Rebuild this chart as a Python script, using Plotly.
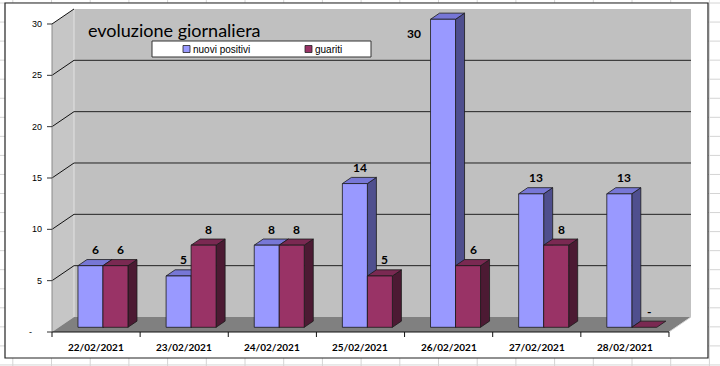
import plotly.graph_objects as go

# ---------------- data ----------------
categories = ["22/02/2021", "23/02/2021", "24/02/2021", "25/02/2021",
              "26/02/2021", "27/02/2021", "28/02/2021"]
nuovi_positivi = [6, 5, 8, 14, 30, 13, 13]
guariti = [6, 8, 8, 5, 6, 8, 0]
series_names = ["nuovi positivi", "guariti"]
y_ticks = [0, 5, 10, 15, 20, 25, 30]
y_tick_labels = ["-", "5", "10", "15", "20", "25", "30"]
title_text = "evoluzione giornaliera"

# ---------------- styling / geometry ----------------
W, H = 720, 366
X_LEFT_PX, CAT_PX, Y0_PX, UNIT_PX = 52.0, 88.14, 332.0, 10.267


def px_x(px):
    return (px - X_LEFT_PX) / CAT_PX - 0.5


def px_y(py):
    return (Y0_PX - py) / UNIT_PX


def dxu(px):
    return px / CAT_PX


def dyu(px):
    return px / UNIT_PX


n = len(categories)
x_lo, x_hi = -0.5, n - 0.5
y_max = max(y_ticks)
DX, DY = dxu(22), dyu(15)            # full depth of the 3D box
F0 = 0.313                           # depth at which bar fronts sit
BF = 0.41                            # bar depth fraction
BAR_W = dxu(25)

colors = {
    "front": ["#9999FF", "#993366"],
    "top": ["#7777D6", "#7A2952"],
    "side": ["#4F4F8E", "#4C1A33"],
}
EDGE = "#1a1a1a"

shapes = []
# spreadsheet cell grid behind the chart object
for k in range(-2, 20):
    xv = 51.5 + 38.7 * k
    if 0 <= xv <= W:
        shapes.append(dict(type="line", xref="paper", yref="paper",
                           x0=xv / W, x1=xv / W, y0=0, y1=1,
                           line=dict(color="#D4D4D4", width=1), layer="below"))
for k in range(0, 20):
    yv = 3 + 19.05 * k
    if 0 <= yv <= H:
        shapes.append(dict(type="line", xref="paper", yref="paper",
                           x0=0, x1=1, y0=1 - yv / H, y1=1 - yv / H,
                           line=dict(color="#D4D4D4", width=1), layer="below"))
# chart object frame
shapes.append(dict(type="rect", xref="paper", yref="paper",
                   x0=5 / W, x1=708 / W, y0=1 - 358 / H, y1=1 - 3 / H,
                   fillcolor="white", line=dict(color="#222222", width=1.2),
                   layer="below"))

# walls & floor
shapes.append(dict(type="rect", xref="x", yref="y",
                   x0=x_lo + DX, x1=x_hi + DX, y0=DY, y1=y_max + DY,
                   fillcolor="#C0C0C0", line=dict(width=0), layer="below"))
shapes.append(dict(type="path", xref="x", yref="y",
                   path=f"M{x_lo},0 L{x_lo+DX},{DY} L{x_lo+DX},{y_max+DY} L{x_lo},{y_max} Z",
                   fillcolor="#C6C6C6", line=dict(width=0), layer="below"))
shapes.append(dict(type="line", xref="x", yref="y",
                   x0=x_lo + DX, x1=x_lo + DX, y0=DY, y1=y_max + DY,
                   line=dict(color="#E2E2E2", width=1), layer="below"))
shapes.append(dict(type="path", xref="x", yref="y",
                   path=f"M{x_lo},0 L{x_hi},0 L{x_hi+DX},{DY} L{x_lo+DX},{DY} Z",
                   fillcolor="#808080", line=dict(width=0), layer="below"))
shapes.append(dict(type="line", xref="x", yref="y",
                   x0=x_hi, x1=x_hi + DX, y0=0, y1=DY,
                   line=dict(color="#D8D8D8", width=1), layer="below"))

# gridlines (diagonal on side wall + horizontal on back wall)
for t in y_ticks:
    if t == 0:
        continue
    shapes.append(dict(type="line", xref="x", yref="y",
                       x0=x_lo, y0=t, x1=x_lo + DX, y1=t + DY,
                       line=dict(color="#111111", width=1), layer="below"))
    if t < y_max:
        shapes.append(dict(type="line", xref="x", yref="y",
                           x0=x_lo + DX, y0=t + DY, x1=x_hi + DX, y1=t + DY,
                           line=dict(color="#222222", width=1), layer="below"))

# front value axis + ticks
shapes.append(dict(type="line", xref="x", yref="y",
                   x0=x_lo, x1=x_lo, y0=0, y1=y_max,
                   line=dict(color="#8A8A8A", width=1), layer="below"))
for t in y_ticks:
    shapes.append(dict(type="line", xref="x", yref="y",
                       x0=x_lo - dxu(5), x1=x_lo, y0=t, y1=t,
                       line=dict(color="#333333", width=1), layer="below"))
# category axis + ticks
shapes.append(dict(type="line", xref="x", yref="y",
                   x0=x_lo, x1=x_hi, y0=0, y1=0,
                   line=dict(color="#111111", width=1), layer="below"))
for i in range(n + 1):
    shapes.append(dict(type="line", xref="x", yref="y",
                       x0=i - 0.5, x1=i - 0.5, y0=0, y1=-dyu(5),
                       line=dict(color="#111111", width=1), layer="below"))

# legend box (below traces so the markers show)
shapes.append(dict(type="rect", xref="x", yref="y",
                   x0=px_x(152), x1=px_x(371), y0=px_y(57), y1=px_y(41),
                   fillcolor="white", line=dict(color="#333333", width=1),
                   layer="below"))

fig = go.Figure()

# ---------------- 3D bars ----------------
series = [nuovi_positivi, guariti]
annotations = []
for s, vals in enumerate(series):
    fx, fy, tx, ty, sx, sy = [], [], [], [], [], []
    for i, v in enumerate(vals):
        x0 = i - BAR_W + s * BAR_W + F0 * DX
        x1 = x0 + BAR_W
        b = F0 * DY
        top = b + v
        bdx, bdy = BF * DX, BF * DY
        if v > 0:
            fx += [x0, x1, x1, x0, x0, None]
            fy += [b, b, top, top, b, None]
            sx += [x1, x1 + bdx, x1 + bdx, x1, x1, None]
            sy += [b, b + bdy, top + bdy, top, b, None]
        tx += [x0, x1, x1 + bdx, x0 + bdx, x0, None]
        ty += [top, top, top + bdy, top + bdy, top, None]

        label = str(v) if v else "-"
        ly = top + dyu(16)
        if ly > y_max + DY - dyu(2):
            annotations.append(dict(x=x0 - dxu(8), y=top - dyu(14), xref="x", yref="y",
                                    text=f"<b>{label}</b>", showarrow=False,
                                    xanchor="right", yanchor="middle",
                                    font=dict(family="Lato", size=12, color="black")))
        else:
            annotations.append(dict(x=(x0 + x1) / 2 + dxu(5), y=ly, xref="x", yref="y",
                                    text=f"<b>{label}</b>", showarrow=False,
                                    xanchor="center", yanchor="middle",
                                    font=dict(family="Lato", size=12, color="black")))
    for xs, ys, key in ((sx, sy, "side"), (tx, ty, "top"), (fx, fy, "front")):
        fig.add_trace(go.Scatter(x=xs, y=ys, mode="lines", fill="toself",
                                 fillcolor=colors[key][s],
                                 line=dict(color=EDGE, width=0.8),
                                 hoverinfo="skip", showlegend=False,
                                 name=series_names[s]))

# ---------------- axis labels ----------------
for t, lab in zip(y_ticks, y_tick_labels):
    xa = x_lo - dxu(8) if t else x_lo - dxu(18)
    annotations.append(dict(x=xa, y=t, xref="x", yref="y", text=lab,
                            showarrow=False, xanchor="right", yanchor="middle",
                            font=dict(family="Liberation Sans", size=9, color="black")))
for i, c in enumerate(categories):
    annotations.append(dict(x=i, y=-dyu(15), xref="x", yref="y", text=f"<b>{c}</b>",
                            showarrow=False, xanchor="center", yanchor="middle",
                            font=dict(family="Lato", size=10, color="black")))

# ---------------- title ----------------
annotations.append(dict(x=px_x(86), y=px_y(30), xref="x", yref="y", text=title_text,
                        showarrow=False, xanchor="left", yanchor="middle",
                        font=dict(family="Lato", size=18, color="black")))

# ---------------- legend ----------------
leg_x = [px_x(186.5), px_x(308.5)]
leg_tx = [px_x(191), px_x(313)]
for s, name in enumerate(series_names):
    fig.add_trace(go.Scatter(x=[leg_x[s]], y=[px_y(49)], mode="markers",
                             marker=dict(symbol="square", size=7,
                                         color=colors["front"][s],
                                         line=dict(color="#222222", width=0.8)),
                             hoverinfo="skip", showlegend=False))
    annotations.append(dict(x=leg_tx[s], y=px_y(49), xref="x", yref="y", text=name,
                            showarrow=False, xanchor="left", yanchor="middle",
                            font=dict(family="Liberation Sans", size=10, color="black")))

fig.update_layout(
    width=W, height=H, autosize=False,
    margin=dict(l=0, r=0, t=0, b=0, pad=0),
    paper_bgcolor="white", plot_bgcolor="rgba(0,0,0,0)",
    xaxis=dict(range=[px_x(0), px_x(W)], visible=False, fixedrange=True),
    yaxis=dict(range=[px_y(H), px_y(0)], visible=False, fixedrange=True),
    shapes=shapes, annotations=annotations, showlegend=False,
)
fig.write_html("out.html", config={"displayModeBar": False},
               post_script="document.body.style.margin='0';document.body.style.overflow='hidden';")
